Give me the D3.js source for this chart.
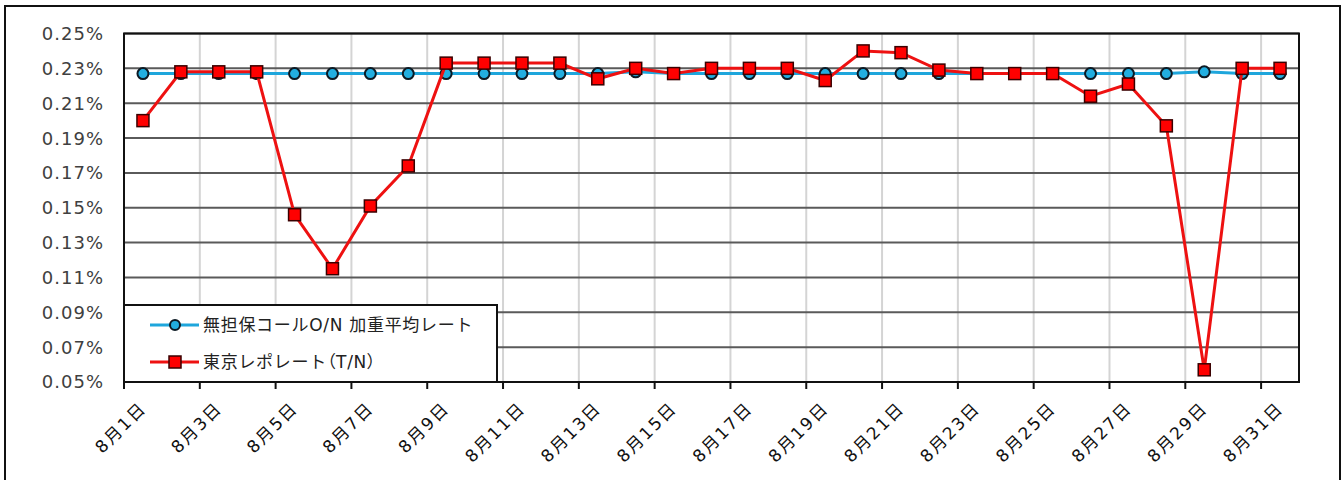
<!DOCTYPE html>
<html>
<head>
<meta charset="utf-8">
<script src="https://cdn.jsdelivr.net/npm/d3@7"></script>
<style>
  body { margin: 0; background: #fff; }
  text { font-family: "DejaVu Sans", "Noto Sans CJK JP", sans-serif; }
  .palt { font-feature-settings: "palt"; }
</style>
</head>
<body>
<div id="chart"></div>
<script>
// Data: August, one value per day (rates in %)
var days = d3.range(1, 32);
var callRate = [0.227, 0.227, 0.227, 0.227, 0.227, 0.227, 0.227, 0.227, 0.227, 0.227,
                0.227, 0.227, 0.227, 0.228, 0.227, 0.227, 0.227, 0.227, 0.227, 0.227,
                0.227, 0.227, 0.227, 0.227, 0.227, 0.227, 0.227, 0.227, 0.228, 0.227,
                0.227];
var repoRate = [0.200, 0.228, 0.228, 0.228, 0.146, 0.115, 0.151, 0.174, 0.233, 0.233,
                0.233, 0.233, 0.224, 0.230, 0.227, 0.230, 0.230, 0.230, 0.223, 0.240,
                0.239, 0.229, 0.227, 0.227, 0.227, 0.214, 0.221, 0.197, 0.057, 0.230,
                0.230];
var yTicks = [0.05, 0.07, 0.09, 0.11, 0.13, 0.15, 0.17, 0.19, 0.21, 0.23, 0.25];
var tickDays = d3.range(1, 32, 2);
var seriesNames = ["無担保コールO/N 加重平均レート", "東京レポレート（T/N）"];

var width = 1344, height = 480;
var plot = { left: 124, right: 1299, top: 33.5, bottom: 382 };

var svg = d3.select("#chart").append("svg")
    .attr("width", width)
    .attr("height", height);

svg.append("rect").attr("width", width).attr("height", height).attr("fill", "#fff");
// chart area border
svg.append("rect")
    .attr("x", 5).attr("y", 6)
    .attr("width", 1335).attr("height", 490)
    .attr("fill", "none").attr("stroke", "#111").attr("stroke-width", 2);

function day(d) { return new Date(Date.UTC(2013, 7, d)); }

var x = d3.scaleUtc()
    .domain([day(1), day(32)])
    .range([plot.left, plot.right]);
var y = d3.scaleLinear()
    .domain([0.05, 0.25])
    .range([plot.bottom, plot.top]);
// points sit in the middle of each day
function px(i) { return x(new Date(day(days[i]).getTime() + 12 * 3600 * 1000)); }

// vertical grid
svg.append("g").selectAll("line")
    .data(tickDays).enter().append("line")
    .attr("x1", function(d) { return x(day(d)); })
    .attr("x2", function(d) { return x(day(d)); })
    .attr("y1", plot.top).attr("y2", plot.bottom)
    .attr("stroke", "#d4d4d4").attr("stroke-width", 2);

// horizontal grid
svg.append("g").selectAll("line")
    .data(yTicks).enter().append("line")
    .attr("x1", plot.left).attr("x2", plot.right)
    .attr("y1", function(d) { return y(d); })
    .attr("y2", function(d) { return y(d); })
    .attr("stroke", "#5a5a5a").attr("stroke-width", 2);

// plot border
svg.append("rect")
    .attr("x", plot.left).attr("y", plot.top)
    .attr("width", plot.right - plot.left).attr("height", plot.bottom - plot.top)
    .attr("fill", "none").attr("stroke", "#111").attr("stroke-width", 2);

// y axis labels
svg.append("g").selectAll("text")
    .data(yTicks).enter().append("text")
    .attr("x", 104)
    .attr("y", function(d) { return y(d); })
    .attr("dy", "0.36em")
    .attr("text-anchor", "end")
    .attr("font-size", 18)
    .attr("letter-spacing", 1)
    .attr("fill", "#404040")
    .text(function(d) { return d3.format(".2f")(d) + "%"; });

// x axis ticks and labels
var xAxis = svg.append("g");
xAxis.selectAll("line")
    .data(tickDays).enter().append("line")
    .attr("x1", function(d) { return x(day(d)); })
    .attr("x2", function(d) { return x(day(d)); })
    .attr("y1", plot.bottom).attr("y2", plot.bottom + 7)
    .attr("stroke", "#111").attr("stroke-width", 2);
xAxis.selectAll("text")
    .data(tickDays).enter().append("text")
    .attr("transform", function(d) {
      return "translate(" + (x(day(d)) + 19) + "," + 405 + ") rotate(-45)";
    })
    .attr("dy", "0.36em")
    .attr("text-anchor", "end")
    .attr("font-size", 17)
    .attr("letter-spacing", 2)
    .attr("fill", "#111")
    .text(function(d) { return "8月" + d + "日"; });

// series
var line = d3.line()
    .x(function(d, i) { return px(i); })
    .y(function(d) { return y(d); });

svg.append("path")
    .datum(callRate)
    .attr("d", line)
    .attr("fill", "none").attr("stroke", "#1ea6dc").attr("stroke-width", 3);
svg.append("g").selectAll("circle")
    .data(callRate).enter().append("circle")
    .attr("cx", function(d, i) { return px(i); })
    .attr("cy", function(d) { return y(d); })
    .attr("r", 5.5)
    .attr("fill", "#22aee0").attr("stroke", "#0d1a24").attr("stroke-width", 2);

svg.append("path")
    .datum(repoRate)
    .attr("d", line)
    .attr("fill", "none").attr("stroke", "#ee1111").attr("stroke-width", 3);
svg.append("g").selectAll("rect")
    .data(repoRate).enter().append("rect")
    .attr("x", function(d, i) { return px(i) - 6; })
    .attr("y", function(d) { return y(d) - 6; })
    .attr("width", 12).attr("height", 12)
    .attr("fill", "#ff0000").attr("stroke", "#3a0000").attr("stroke-width", 1.5);

// legend
var legend = svg.append("g");
legend.append("rect")
    .attr("x", plot.left).attr("y", 305)
    .attr("width", 373).attr("height", plot.bottom - 305)
    .attr("fill", "#fff").attr("stroke", "#111").attr("stroke-width", 2);
var rows = [325, 362];
legend.append("line")
    .attr("x1", 150).attr("x2", 199).attr("y1", rows[0]).attr("y2", rows[0])
    .attr("stroke", "#1ea6dc").attr("stroke-width", 3);
legend.append("circle")
    .attr("cx", 175).attr("cy", rows[0]).attr("r", 5)
    .attr("fill", "#22aee0").attr("stroke", "#0d1a24").attr("stroke-width", 2);
legend.append("line")
    .attr("x1", 150).attr("x2", 199).attr("y1", rows[1]).attr("y2", rows[1])
    .attr("stroke", "#ee1111").attr("stroke-width", 3);
legend.append("rect")
    .attr("x", 169).attr("y", rows[1] - 6).attr("width", 12).attr("height", 12)
    .attr("fill", "#ff0000").attr("stroke", "#3a0000").attr("stroke-width", 1.5);
var legendText = legend.selectAll("text")
    .data(seriesNames).enter().append("text")
    .attr("x", 203)
    .attr("y", function(d, i) { return rows[i]; })
    .attr("dy", "0.36em")
    .attr("font-size", 17)
    .attr("letter-spacing", 0.7)
    .attr("fill", "#222");
// full-width brackets drawn proportionally, as in the original
legendText.each(function(d) {
  var parts = d.split("（");
  var t = d3.select(this);
  t.append("tspan").text(parts[0]);
  if (parts.length > 1) t.append("tspan").attr("class", "palt").text("（" + parts[1]);
});
</script>
</body>
</html>
